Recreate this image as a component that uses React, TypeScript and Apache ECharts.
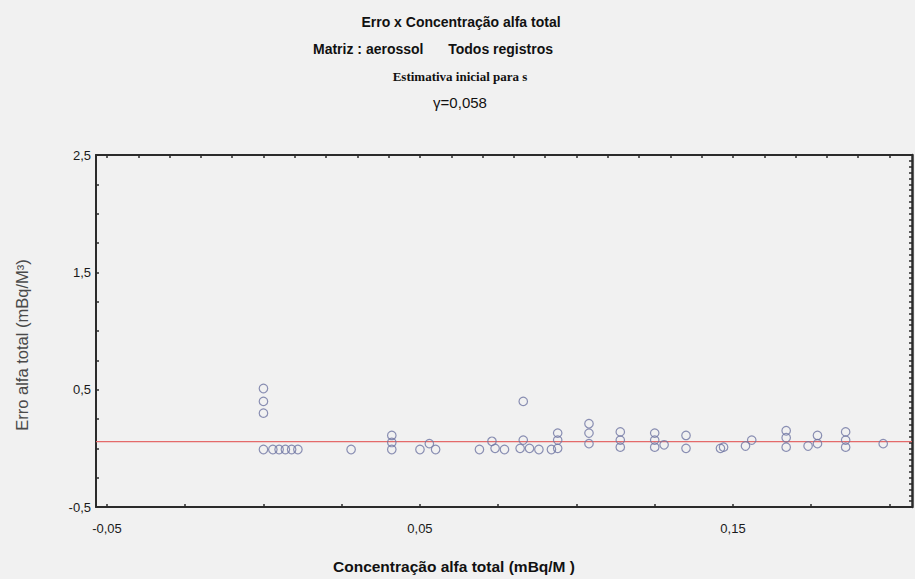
import React, { useEffect, useRef } from "react";
import * as echarts from "echarts";

// Concentração alfa total (x) and Erro alfa total (y)
const concX = [
  0.000, 0.000, 0.000,
  0.000, 0.003, 0.005, 0.007, 0.009, 0.011,
  0.028,
  0.041, 0.041, 0.041,
  0.050, 0.053, 0.055,
  0.069,
  0.073, 0.074,
  0.077,
  0.082, 0.083, 0.083, 0.085,
  0.088, 0.092,
  0.094, 0.094, 0.094,
  0.104, 0.104, 0.104,
  0.114, 0.114, 0.114,
  0.125, 0.125, 0.125, 0.128,
  0.135, 0.135,
  0.146, 0.147,
  0.154, 0.156,
  0.167, 0.167, 0.167,
  0.174, 0.177, 0.177,
  0.186, 0.186, 0.186,
  0.198,
];
const erroY = [
  0.51, 0.40, 0.30,
  -0.01, -0.01, -0.01, -0.01, -0.01, -0.01,
  -0.01,
  0.11, 0.05, -0.01,
  -0.01, 0.04, -0.01,
  -0.01,
  0.06, 0.0,
  -0.01,
  0.0, 0.07, 0.40, 0.0,
  -0.01, -0.01,
  0.13, 0.07, 0.0,
  0.21, 0.13, 0.04,
  0.14, 0.07, 0.01,
  0.13, 0.07, 0.01, 0.03,
  0.11, 0.0,
  0.0, 0.01,
  0.02, 0.07,
  0.15, 0.09, 0.01,
  0.02, 0.11, 0.04,
  0.14, 0.07, 0.01,
  0.04,
];
const fitY = 0.058;

const xMin = -0.0535;
const xMax = 0.2072;
const yMin = -0.5;
const yMax = 2.5;
const xLabelValues = [-0.05, 0.05, 0.15];
const xBottomTicks = [-0.05, -0.025, 0, 0.025, 0.05, 0.075, 0.1, 0.125, 0.15, 0.175, 0.2];
const xTopTicks = [
  -0.05, -0.04, -0.03, -0.02, -0.01, 0, 0.01, 0.02, 0.03, 0.04, 0.05, 0.06, 0.07, 0.08, 0.09, 0.1,
  0.11, 0.12, 0.13, 0.14, 0.15, 0.16, 0.17, 0.18, 0.19, 0.2,
];
const yLabelTicks = [-0.5, 0.5, 1.5, 2.5];

const titleLine1 = "Erro x Concentração alfa total";
const titleLine2a = "Matriz : aerossol";
const titleLine2b = "Todos registros";
const titleLine3 = "Estimativa inicial para s";
const titleLine4 = "γ=0,058";
const xAxisTitle = "Concentração alfa total (mBq/M )";
const yAxisTitle = "Erro alfa total (mBq/M³)";

const near = (list: number[], v: number) => list.some((t) => Math.abs(t - v) < 1e-7);

export default function App() {
  const ref = useRef<HTMLDivElement>(null);
  useEffect(() => {
    if (!ref.current) return;
    const chart = echarts.init(ref.current, undefined, { renderer: "svg" });
    const frame = "#2b2b2b";
    const sans = "Liberation Sans, Arial, sans-serif";
    const points = concX.map((x, i) => [x, erroY[i]]);
    chart.setOption({
      animation: false,
      backgroundColor: "#f1f1f1",
      grid: { left: 96, right: 3, top: 155, bottom: 72, containLabel: false },
      xAxis: [
        {
          type: "value",
          position: "bottom",
          min: xMin,
          max: xMax,
          axisLine: { show: true, onZero: false, lineStyle: { color: frame, width: 2 } },
          axisTick: {
            show: true,
            inside: true,
            length: 3,
            customValues: xBottomTicks,
            lineStyle: { color: frame, width: 1.5 },
          },
          splitLine: { show: false },
          axisLabel: {
            show: true,
            margin: 15,
            customValues: xLabelValues,
            color: "#1a1a1a",
            fontFamily: sans,
            fontSize: 13,
            formatter: (v: number) => v.toFixed(2).replace(".", ","),
          },
        },
        {
          type: "value",
          position: "top",
          min: xMin,
          max: xMax,
          axisLine: { show: true, onZero: false, lineStyle: { color: frame, width: 2 } },
          axisTick: {
            show: true,
            inside: true,
            length: 3,
            customValues: xTopTicks,
            lineStyle: { color: frame, width: 1.5 },
          },
          splitLine: { show: false },
          axisLabel: { show: false },
        },
      ],
      yAxis: [
        {
          type: "value",
          position: "left",
          min: yMin,
          max: yMax,
          interval: 0.25,
          axisLine: { show: true, onZero: false, lineStyle: { color: frame, width: 2 } },
          axisTick: { show: true, inside: true, length: 3, lineStyle: { color: frame, width: 1.5 } },
          splitLine: { show: false },
          axisLabel: {
            show: true,
            margin: 5,
            color: "#1a1a1a",
            fontFamily: sans,
            fontSize: 13,
            formatter: (v: number) => (near(yLabelTicks, v) ? v.toFixed(1).replace(".", ",") : ""),
          },
        },
        {
          type: "value",
          position: "right",
          min: yMin,
          max: yMax,
          interval: 0.05,
          axisLine: { show: true, onZero: false, lineStyle: { color: frame, width: 2.5 } },
          axisTick: { show: true, inside: true, length: 3, lineStyle: { color: frame, width: 1.5 } },
          splitLine: { show: false },
          axisLabel: { show: false },
        },
      ],
      series: [
        {
          type: "line",
          xAxisIndex: 0,
          yAxisIndex: 0,
          data: [
            [xMin, fitY],
            [xMax, fitY],
          ],
          symbol: "none",
          lineStyle: { color: "#e46a6a", width: 1.3 },
          z: 1,
          silent: true,
        },
        {
          type: "scatter",
          xAxisIndex: 0,
          yAxisIndex: 0,
          data: points,
          symbol: "circle",
          symbolSize: 8.5,
          itemStyle: { color: "rgba(0,0,0,0)", borderColor: "#6f76a3", borderWidth: 1.2 },
          z: 3,
        },
      ],
      graphic: [
        {
          type: "text",
          x: 461,
          y: 22,
          style: { text: titleLine1, font: `bold 14px ${sans}`, fill: "#111", textAlign: "center", textVerticalAlign: "middle" },
        },
        {
          type: "text",
          x: 313,
          y: 49,
          style: { text: titleLine2a, font: `bold 14px ${sans}`, fill: "#111", textAlign: "left", textVerticalAlign: "middle" },
        },
        {
          type: "text",
          x: 553,
          y: 49,
          style: { text: titleLine2b, font: `bold 14px ${sans}`, fill: "#111", textAlign: "right", textVerticalAlign: "middle" },
        },
        {
          type: "text",
          x: 460,
          y: 76,
          style: { text: titleLine3, font: `bold 13px Liberation Serif, Times New Roman, serif`, fill: "#111", textAlign: "center", textVerticalAlign: "middle" },
        },
        {
          type: "text",
          x: 460,
          y: 102,
          style: { text: titleLine4, font: `15px ${sans}`, fill: "#111", textAlign: "center", textVerticalAlign: "middle" },
        },
        {
          type: "text",
          x: 454,
          y: 566,
          style: { text: xAxisTitle, font: `bold 15.5px ${sans}`, fill: "#111", textAlign: "center", textVerticalAlign: "middle" },
        },
        {
          type: "text",
          x: 22,
          y: 345,
          rotation: Math.PI / 2,
          style: { text: yAxisTitle, font: `16.5px ${sans}`, fill: "#4a4a4a", textAlign: "center", textVerticalAlign: "middle" },
        },
      ],
    });
    return () => chart.dispose();
  }, []);
  return <div ref={ref} style={{ position: "fixed", left: 0, top: 0, width: 915, height: 579 }} />;
}
